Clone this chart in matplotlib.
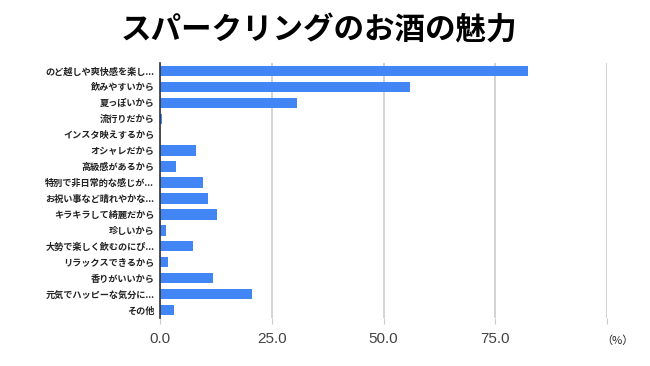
import matplotlib.pyplot as plt

plt.rcParams['font.family'] = ['Noto Sans CJK JP', 'DejaVu Sans']

# Data
labels = [
    "のど越しや爽快感を楽し...",
    "飲みやすいから",
    "夏っぽいから",
    "流行りだから",
    "インスタ映えするから",
    "オシャレだから",
    "高級感があるから",
    "特別で非日常的な感じが...",
    "お祝い事など晴れやかな...",
    "キラキラして綺麗だから",
    "珍しいから",
    "大勢で楽しく飲むのにぴ...",
    "リラックスできるから",
    "香りがいいから",
    "元気でハッピーな気分に...",
    "その他",
]
values = [82.3, 55.9, 30.6, 0.5, 0.1, 8.0, 3.7, 9.7, 10.8, 12.7, 1.3, 7.3, 1.7, 11.9, 20.7, 3.1]
xticks = [0, 25, 50, 75, 100]
xtick_labels = ["0.0", "25.0", "50.0", "75.0", ""]

fig = plt.figure(figsize=(6.5, 3.66), dpi=100)
ax = fig.add_axes([0.246, 0.131, 0.688, 0.697])

y = list(range(len(labels)))
ax.barh(y, values, height=0.65, color="#4285F4", zorder=3)
ax.set_ylim(len(labels) - 0.5, -0.5)
ax.set_xlim(0, 100)

ax.set_yticks(y)
ax.set_yticklabels(labels, fontsize=6.6, color="#222222", fontweight="bold")
ax.tick_params(axis="y", length=0, pad=4)

ax.set_xticks(xticks)
ax.set_xticklabels(xtick_labels, fontsize=11, color="#444444", family="Liberation Sans")
ax.tick_params(axis="x", length=4, color="#cccccc", pad=6)

ax.grid(axis="x", color="#cccccc", linewidth=1.2, zorder=0)
for s in ["top", "right", "bottom"]:
    ax.spines[s].set_visible(False)
ax.spines["left"].set_color("#333333")
ax.spines["left"].set_linewidth(1.2)
ax.spines["left"].set_zorder(4)

fig.text(0.975, 0.07, "（%）", fontsize=8, color="#222222", ha="right", va="center")
fig.text(0.49, 0.918, "スパークリングのお酒の魅力", fontsize=22, fontweight="bold",
         ha="center", va="center")

fig.savefig("out.png", dpi=100)
